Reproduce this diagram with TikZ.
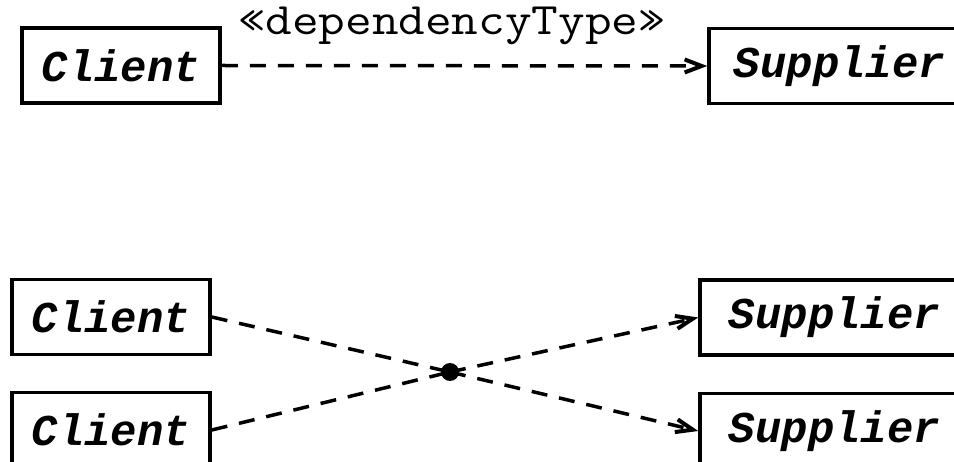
\documentclass[tikz,border=0pt]{standalone}
\usepackage{fontspec}
\newfontfamily\boxfont{Liberation Mono}
\newfontfamily\lblfont{Latin Modern Mono}[FakeStretch=1.15]
\usetikzlibrary{arrows.meta}
\tikzset{
  cls/.style={draw, line width=3.5pt, minimum height=75pt, inner sep=0pt,
    font=\fontsize{44}{50}\selectfont\boxfont\bfseries\itshape},
  dep/.style={line width=3.5pt, dash pattern=on 16pt off 12pt},
  deparrow/.style={dep, -{Straight Barb[length=17pt,width=13pt,line width=4pt]}},
  lbl/.style={font=\fontsize{45}{50}\selectfont\lblfont, inner sep=0pt}
}
\begin{document}
\begin{tikzpicture}[x=1pt,y=-1pt]
\useasboundingbox (0,0) rectangle (954,462);
\clip (0,0) rectangle (954,462);
% top
\node[cls, minimum width=198pt] (c0) at (121,65.5) {Client};
\node[cls, minimum width=261pt] (s0) at (839.5,66) {Supplier};
\draw[deparrow] (c0.east) -- (s0.west);
\node[lbl, anchor=base] (t) at (452,35) {«dependencyType»};
% bottom
\node[cls, minimum width=198pt] (c1) at (111,317) {Client};
\node[cls, minimum width=198pt] (c2) at (111,430) {Client};
\node[cls, minimum width=269pt] (s1) at (834.5,317.5) {Supplier};
\node[cls, minimum width=269pt] (s2) at (834.5,431) {Supplier};
\node[circle, fill, inner sep=0pt, minimum size=18pt] (d) at (450,372) {};
\draw[dep] (c1.east) -- (d.center);
\draw[dep] (c2.east) -- (d.center);
\draw[deparrow] (d.center) -- (s1.west);
\draw[deparrow] (d.center) -- (s2.west);
\end{tikzpicture}
\end{document}
